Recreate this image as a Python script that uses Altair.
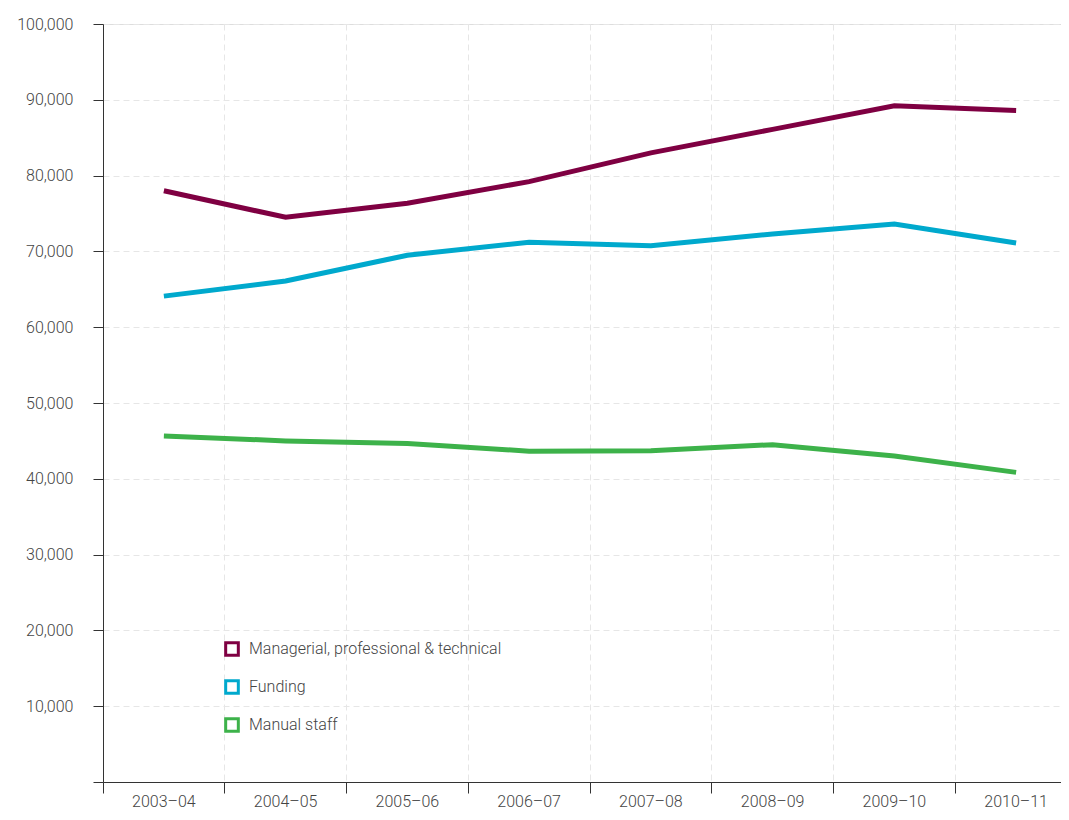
import altair as alt
import pandas as pd

years = ["2003–04", "2004–05", "2005–06", "2006–07", "2007–08", "2008–09", "2009–10", "2010–11"]
managerial = [78000, 74500, 76350, 79200, 83000, 86100, 89200, 88600]
funding = [64100, 66100, 69500, 71200, 70750, 72300, 73600, 71100]
manual = [45650, 45000, 44650, 43650, 43700, 44500, 43000, 40850]
series_names = ["Managerial, professional & technical", "Funding", "Manual staff"]
colors = ["#7f0042", "#00a9cd", "#3db24a"]
y_ticks = [0, 10000, 20000, 30000, 40000, 50000, 60000, 70000, 80000, 90000, 100000]

rows = []
for name, vals in zip(series_names, [managerial, funding, manual]):
    for yr, v in zip(years, vals):
        rows.append({"year": yr, "value": v, "series": name})
df = pd.DataFrame(rows)

FONT = "Roboto"
TXT = "#444444"

chart = alt.Chart(df).mark_line(strokeWidth=5).encode(
    x=alt.X(
        "year:N",
        sort=years,
        bandPosition=0.5,
        scale=alt.Scale(type="band", paddingInner=0, paddingOuter=0, range=[0, 974]),
        axis=alt.Axis(
            title=None, bandPosition=0, labelAngle=0, tickSize=11, labelPadding=0,
            labelFont=FONT, labelFontSize=16, labelColor=TXT, labelFontWeight=300,
            domainColor="#333333", tickColor="#333333",
            grid=True, gridColor="#e6e6e6", gridDash=[6, 4], gridWidth=1,
        ),
    ),
    y=alt.Y(
        "value:Q",
        scale=alt.Scale(domain=[0, 100000], nice=False, zero=True),
        axis=alt.Axis(
            title=None, values=y_ticks, tickSize=10, labelPadding=20,
            labelExpr="datum.value == 0 ? '' : format(datum.value, ',')",
            labelFont=FONT, labelFontSize=16, labelColor=TXT, labelFontWeight=300,
            domainColor="#333333", tickColor="#333333",
            grid=True, gridColor="#e6e6e6", gridDash=[6, 4], gridWidth=1,
        ),
    ),
    color=alt.Color(
        "series:N",
        sort=series_names,
        scale=alt.Scale(domain=series_names, range=colors),
        legend=alt.Legend(
            title=None, orient="none", legendX=121, legendY=617, direction="vertical",
            symbolType="square", symbolSize=160, symbolStrokeWidth=3,
            symbolFillColor="white", labelFont=FONT, labelFontSize=16,
            labelColor=TXT, labelFontWeight=300, labelOffset=9, rowPadding=12,
            labelLimit=0,
        ),
    ),
).properties(
    width=958, height=758,
    autosize=alt.AutoSizeParams(type="none"),
    padding={"left": 95, "top": 16, "right": 0, "bottom": 30},
).configure_view(stroke=None).configure(background="white")

chart.save("out.html", embed_options={"renderer": "svg", "actions": False})
